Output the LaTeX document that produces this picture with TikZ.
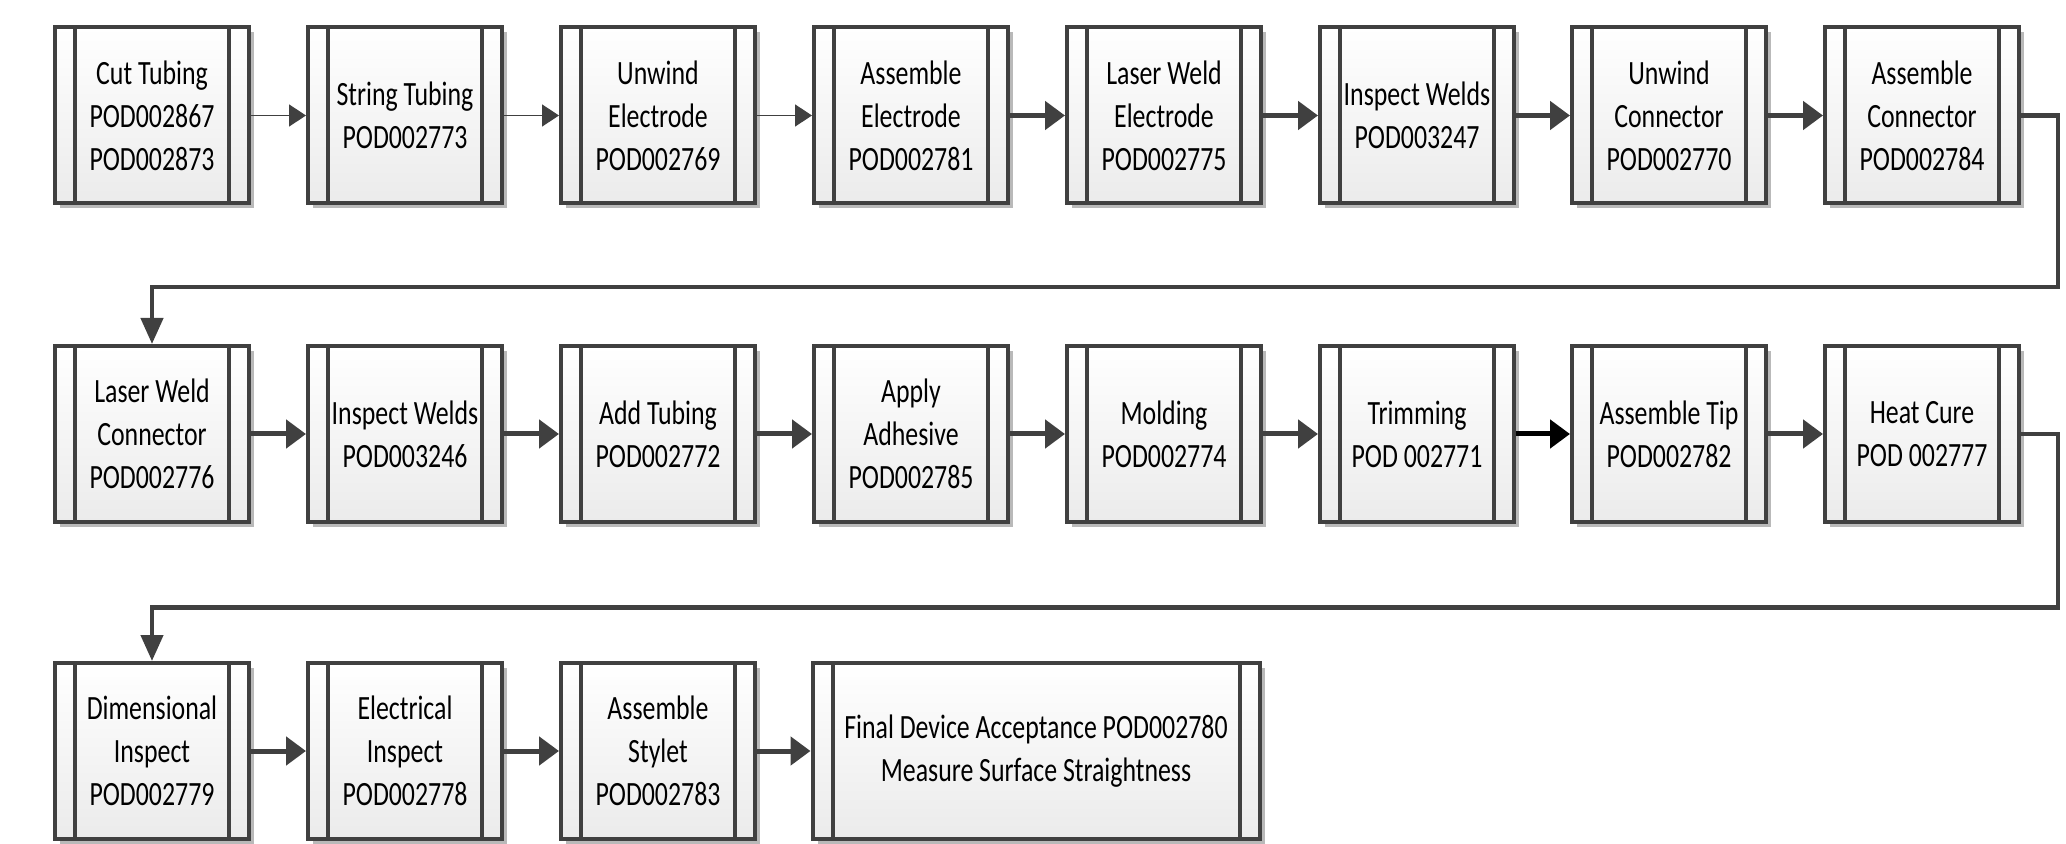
\documentclass[tikz,border=0pt]{standalone}
\usepackage{fontspec}
\newfontfamily\podfont[FakeStretch=0.76]{Carlito}
\usetikzlibrary{arrows.meta,shadows}

\definecolor{boxline}{HTML}{404040}
\definecolor{boxfill}{HTML}{EBEBEB}

\tikzset{
  podbox/.style={draw=boxline, line width=2pt, top color=white, bottom color=boxfill,
    minimum width=97pt, minimum height=88pt, inner sep=0pt, align=center,
    font=\podfont\fontsize{17}{21.5}\selectfont, text=black,
    drop shadow={shadow xshift=2.5pt,shadow yshift=-2.5pt,fill=gray!55,opacity=1},
    path picture={
      \draw[boxline,line width=2pt]
        ([xshift=10pt]path picture bounding box.north west) -- ([xshift=10pt]path picture bounding box.south west)
        ([xshift=-10pt]path picture bounding box.north east) -- ([xshift=-10pt]path picture bounding box.south east);
    }},
  thinflow/.style={draw=boxline, line width=0.8pt, -{Triangle[length=8.5pt,width=11pt]}},
  flow/.style={draw=boxline, line width=2.5pt, -{Triangle[length=10pt,width=14pt]}},
  wrapflow/.style={draw=boxline, line width=2.2pt, -{Triangle[length=13pt,width=11pt]}}
}

\begin{document}
\begin{tikzpicture}[x=0.5pt,y=-0.5pt]
\useasboundingbox (0,0) rectangle (2066,844);

% first row
\node[podbox] (cut) at (152,115.5) {Cut Tubing\\POD002867\\POD002873};
\node[podbox] (string) at (405,115.5) {String Tubing\\POD002773};
\node[podbox] (unwindE) at (658,115.5) {Unwind\\Electrode\\POD002769};
\node[podbox] (assembleE) at (911,115.5) {Assemble\\Electrode\\POD002781};
\node[podbox] (weldE) at (1164,115.5) {Laser Weld\\Electrode\\POD002775};
\node[podbox] (inspectE) at (1417,115.5) {Inspect Welds\\POD003247};
\node[podbox] (unwindC) at (1669,115.5) {Unwind\\Connector\\POD002770};
\node[podbox] (assembleC) at (1922,115.5) {Assemble\\Connector\\POD002784};

% second row
\node[podbox] (weldC) at (152,434) {Laser Weld\\Connector\\POD002776};
\node[podbox] (inspectC) at (405,434) {Inspect Welds\\POD003246};
\node[podbox] (tubing) at (658,434) {Add Tubing\\POD002772};
\node[podbox] (adhesive) at (911,434) {Apply\\Adhesive\\POD002785};
\node[podbox] (molding) at (1164,434) {Molding\\POD002774};
\node[podbox] (trimming) at (1417,434) {Trimming\\POD 002771};
\node[podbox] (tip) at (1669,434) {Assemble Tip\\POD002782};
\node[podbox] (cure) at (1922,434) {Heat Cure\\POD 002777};

% third row
\node[podbox] (dimensional) at (152,751) {Dimensional\\Inspect\\POD002779};
\node[podbox] (electrical) at (405,751) {Electrical\\Inspect\\POD002778};
\node[podbox] (stylet) at (658,751) {Assemble\\Stylet\\POD002783};
\node[podbox,minimum width=223.5pt] (final) at (1036,751) {Final Device Acceptance POD002780\\Measure Surface Straightness};

\draw[thinflow] (cut) -- (string);
\draw[thinflow] (string) -- (unwindE);
\draw[thinflow] (unwindE) -- (assembleE);
\draw[flow] (assembleE) -- (weldE);
\draw[flow] (weldE) -- (inspectE);
\draw[flow] (inspectE) -- (unwindC);
\draw[flow] (unwindC) -- (assembleC);

\coordinate (turn1) at (2058,287);
\draw[wrapflow] (assembleC.east) -| (turn1) -| (weldC.north);

\draw[flow] (weldC) -- (inspectC);
\draw[flow] (inspectC) -- (tubing);
\draw[flow] (tubing) -- (adhesive);
\draw[flow] (adhesive) -- (molding);
\draw[flow] (molding) -- (trimming);
\draw[flow,draw=black] (trimming) -- (tip);
\draw[flow] (tip) -- (cure);

\coordinate (turn2) at (2058,607.5);
\draw[wrapflow] (cure.east) -| (turn2) -| (dimensional.north);

\draw[flow] (dimensional) -- (electrical);
\draw[flow] (electrical) -- (stylet);
\draw[flow] (stylet) -- (final);
\end{tikzpicture}
\end{document}
